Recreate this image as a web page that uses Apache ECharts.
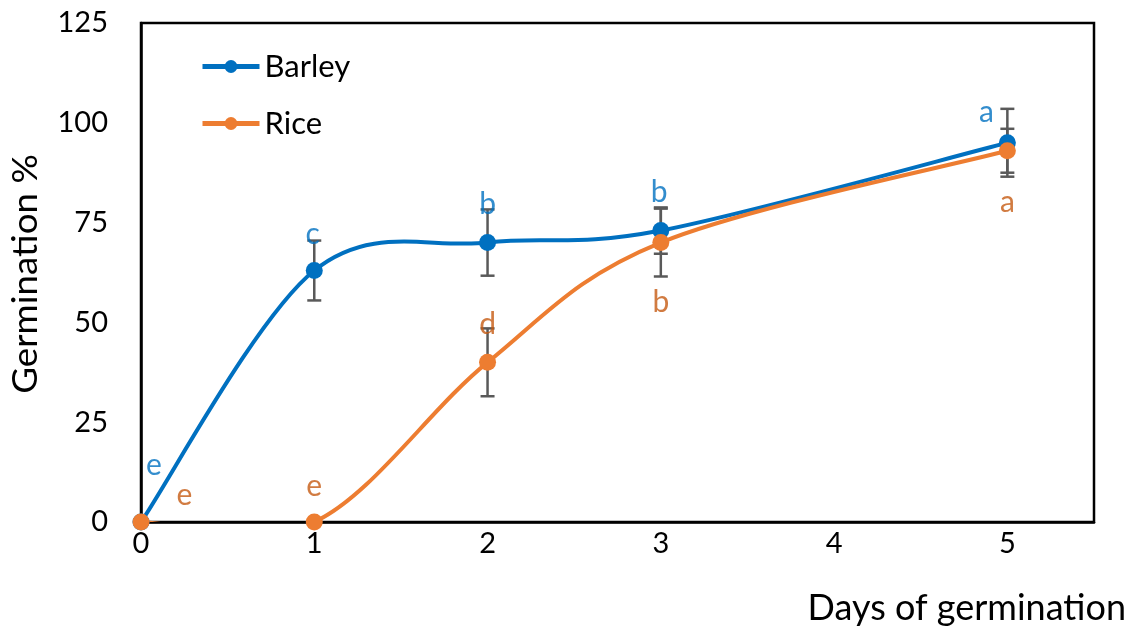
<!DOCTYPE html>
<html>
<head>
<meta charset="utf-8">
<script src="https://cdn.jsdelivr.net/npm/echarts@6/dist/echarts.min.js"></script>
<style>html,body{margin:0;padding:0;background:#fff}#c{width:1134px;height:634px}</style>
</head>
<body>
<div id="c"></div>
<script>
const days = [0, 1, 2, 3, 5];
const barley = [0, 63, 70, 73, 95];
const rice = [0, 0, 40, 70, 93];
const barleyErr = [0, 7.5, 8.3, 5.8, 8.5];
const riceErr = [0, 0, 8.5, 8.5, 5.5];
// letter annotations: [x, y, letter] in data units
const barleyLetters = [[0.075, 14.3, 'e'], [0.99, 72, 'c'], [2, 79.5, 'b'], [2.99, 82.5, 'b'], [4.88, 102.5, 'a']];
const riceLetters = [[0.25, 6.8, 'e'], [1, 9, 'e'], [2, 49.4, 'd'], [3, 55, 'b'], [5, 80, 'a']];
const yTicks = [0, 25, 50, 75, 100, 125];

const FONT = 'Lato';
const BLUE = '#0070C0';
const ORANGE = '#ED7D31';
const BLUE_T = '#0070C0';
const ORANGE_T = '#C55A11';

function pts(ys) { return days.map((d, i) => [d, ys[i]]); }
function errData(ys, es) { return days.map((d, i) => [d, ys[i] - es[i], ys[i] + es[i]]).filter((r, i) => es[i] > 0); }

function errRender(params, api) {
  const x = api.value(0);
  const lo = api.coord([x, api.value(1)]);
  const hi = api.coord([x, api.value(2)]);
  const hw = 7;
  const st = { stroke: '#595959', lineWidth: 2.5 };
  return {
    type: 'group',
    children: [
      { type: 'line', shape: { x1: lo[0], y1: lo[1], x2: hi[0], y2: hi[1] }, style: st },
      { type: 'line', shape: { x1: lo[0] - hw, y1: lo[1], x2: lo[0] + hw, y2: lo[1] }, style: st },
      { type: 'line', shape: { x1: hi[0] - hw, y1: hi[1], x2: hi[0] + hw, y2: hi[1] }, style: st }
    ]
  };
}

// Excel-like (Catmull-Rom) smoothed curve, one bezier segment per data item
function curveRender(ys, color) {
  return function (params, api) {
    const i = params.dataIndex;
    const n = days.length;
    if (i >= n - 1) return { type: 'group', children: [] };
    const P = j => api.coord([days[Math.max(0, Math.min(n - 1, j))], ys[Math.max(0, Math.min(n - 1, j))]]);
    const p0 = P(i - 1), p1 = P(i), p2 = P(i + 1), p3 = P(i + 2);
    const cs = params.coordSys;
    return {
      type: 'group',
      clipPath: { type: 'rect', shape: { x: cs.x, y: cs.y, width: cs.width, height: cs.height } },
      children: [{
        type: 'bezierCurve',
        shape: {
          x1: p1[0], y1: p1[1], x2: p2[0], y2: p2[1],
          cpx1: p1[0] + (p2[0] - p0[0]) / 6, cpy1: p1[1] + (p2[1] - p0[1]) / 6,
          cpx2: p2[0] - (p3[0] - p1[0]) / 6, cpy2: p2[1] - (p3[1] - p1[1]) / 6
        },
        style: { stroke: color, lineWidth: 4, fill: null, lineCap: 'round' }
      }]
    };
  };
}

function letterSeries(data, color) {
  return {
    type: 'scatter', data: data.map(d => ({ value: [d[0], d[1]], name: d[2] })),
    symbolSize: 0, silent: true, z: 6,
    label: { show: true, position: 'inside', formatter: p => p.name, color: color, fontFamily: FONT, fontSize: 30 }
  };
}

const chart = echarts.init(document.getElementById('c'));
chart.setOption({
  animation: false,
  grid: { left: 141, right: 40, top: 23, bottom: 112, show: true, borderColor: '#000', borderWidth: 2.5, backgroundColor: 'transparent' },
  legend: {
    orient: 'vertical', left: 195, top: 46, itemWidth: 57, itemHeight: 16, itemGap: 26,
    textStyle: { fontFamily: FONT, fontSize: 31, color: '#000' },
    data: [
      { name: 'Barley', lineStyle: { color: BLUE, width: 5, opacity: 1 }, itemStyle: { color: BLUE } },
      { name: 'Rice', lineStyle: { color: ORANGE, width: 5, opacity: 1 }, itemStyle: { color: ORANGE } }
    ]
  },
  xAxis: {
    type: 'value', min: 0, max: 5.5, interval: 1,
    axisLine: { show: true, lineStyle: { color: '#000', width: 2.5 } },
    axisTick: { show: false }, splitLine: { show: false },
    axisLabel: { margin: 7, fontFamily: FONT, fontSize: 29, color: '#000', showMaxLabel: false,
      formatter: v => (Number.isInteger(v) ? String(v) : '') }
  },
  yAxis: {
    type: 'value', min: yTicks[0], max: yTicks[yTicks.length - 1], interval: 25,
    axisLine: { show: true, lineStyle: { color: '#000', width: 2.5 } },
    axisTick: { show: false }, splitLine: { show: false },
    axisLabel: { margin: 33, fontFamily: FONT, fontSize: 29, color: '#000' }
  },
  graphic: [
    { type: 'text', x: 1126, y: 608,
      style: { text: 'Days of germination', fontFamily: FONT, fontSize: 36, fill: '#000', align: 'right', verticalAlign: 'middle' } },
    { type: 'text', x: 26, y: 274, rotation: Math.PI / 2, scaleX: 1.08,
      style: { text: 'Germination %', fontFamily: FONT, fontSize: 34, fill: '#000', align: 'center', verticalAlign: 'middle' } }
  ],
  series: [
    { type: 'custom', renderItem: curveRender(barley, BLUE), data: pts(barley), z: 2, silent: true },
    { type: 'custom', renderItem: curveRender(rice, ORANGE), data: pts(rice), z: 2, silent: true },
    { type: 'custom', renderItem: errRender, data: errData(barley, barleyErr), z: 3, silent: true },
    { type: 'custom', renderItem: errRender, data: errData(rice, riceErr), z: 3, silent: true },
    { name: 'Barley', type: 'line', data: pts(barley), symbol: 'circle', symbolSize: 17,
      lineStyle: { color: BLUE, width: 0, opacity: 0 }, itemStyle: { color: BLUE }, z: 4 },
    { name: 'Rice', type: 'line', data: pts(rice), symbol: 'circle', symbolSize: 17,
      lineStyle: { color: ORANGE, width: 0, opacity: 0 }, itemStyle: { color: ORANGE }, z: 5 },
    letterSeries(barleyLetters, BLUE_T),
    letterSeries(riceLetters, ORANGE_T)
  ]
});
</script>
</body>
</html>
